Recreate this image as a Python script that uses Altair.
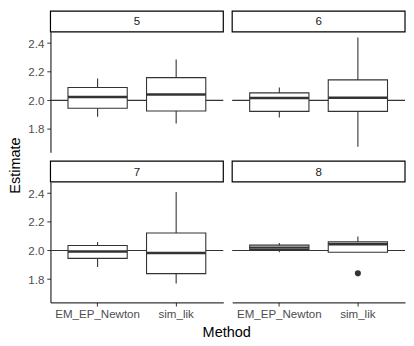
import altair as alt
import pandas as pd

# ---- data ----
panels = ["5", "5", "6", "6", "7", "7", "8", "8"]
methods = ["EM_EP_Newton", "sim_lik"] * 4
lower = [1.886, 1.839, 1.880, 1.675, 1.885, 1.769, 1.988, 1.988]
q1 = [1.945, 1.925, 1.923, 1.923, 1.945, 1.838, 2.007, 1.988]
median = [2.023, 2.041, 2.016, 2.018, 1.993, 1.982, 2.020, 2.043]
q3 = [2.090, 2.159, 2.052, 2.143, 2.035, 2.122, 2.037, 2.060]
upper = [2.152, 2.286, 2.089, 2.440, 2.060, 2.409, 2.053, 2.097]
outlier = [None, None, None, None, None, None, None, 1.840]
ref_value = 2.0
y_ticks = [1.8, 2.0, 2.2, 2.4]
y_domain = [1.637, 2.479]

df = pd.DataFrame({
    "panel": panels, "Method": methods, "lower": lower, "q1": q1,
    "median": median, "q3": q3, "upper": upper, "outlier": outlier,
})
df["ref"] = ref_value

W, H = 175, 122
STRIP = 21
FONT = "Liberation Sans"
DARK = "#333333"


def panel(p, show_x, show_y):
    if show_x:
        xaxis = alt.Axis(labelAngle=0, domainColor="black", domainWidth=1,
                         tickColor=DARK, tickSize=3.7, tickWidth=1,
                         labelColor="#4D4D4D", labelFontSize=11.7,
                         labelFont=FONT, labelPadding=3)
    else:
        xaxis = None
    if show_y:
        yaxis = alt.Axis(values=y_ticks, format=".1f", grid=False,
                         domainColor="black", domainWidth=1, tickColor=DARK,
                         tickSize=3.7, tickWidth=1, labelColor="#4D4D4D",
                         labelFontSize=11.7, labelFont=FONT, labelPadding=3)
    else:
        yaxis = None
    xenc = alt.X("Method:N", title=None,
                 scale=alt.Scale(domain=["EM_EP_Newton", "sim_lik"],
                                 paddingInner=0, paddingOuter=0.1),
                 axis=xaxis)
    yscale = alt.Scale(domain=y_domain, nice=False, zero=False)

    def Y(f):
        return alt.Y(f, scale=yscale, axis=yaxis, title=None)

    base = alt.Chart(df).transform_filter(alt.datum.panel == p).properties(
        width=W, height=H)
    first = alt.datum.Method == "EM_EP_Newton"

    strip_rect = base.mark_rect(fill="white", stroke="black",
                                strokeWidth=1.2).encode(
        x=alt.value(0), x2=alt.value(W), y=alt.value(-STRIP), y2=alt.value(0)
    ).transform_filter(first)
    strip_text = base.mark_text(font=FONT, fontSize=11.7, color="#1A1A1A",
                                baseline="middle", align="center").encode(
        x=alt.value(W / 2), y=alt.value(-STRIP / 2), text="panel:N"
    ).transform_filter(first)
    ref = base.mark_rule(color=DARK, strokeWidth=1.1).encode(
        y=Y("ref:Q")).transform_filter(first)
    whisk = base.mark_rule(color=DARK, strokeWidth=1.1).encode(
        x=xenc, y=Y("lower:Q"), y2="upper:Q")
    box = base.mark_bar(fill="white", stroke=DARK, strokeWidth=1.1,
                        size=60).encode(x=xenc, y=Y("q1:Q"), y2="q3:Q")
    med = base.mark_tick(color=DARK, size=60, thickness=2.4,
                         opacity=1).encode(x=xenc, y=Y("median:Q"))
    outl = base.mark_circle(color=DARK, size=38, opacity=1).encode(
        x=xenc, y=Y("outlier:Q"))
    return alt.layer(strip_rect, strip_text, ref, whisk, box, med, outl)


grid = alt.vconcat(
    alt.hconcat(panel("5", False, True), panel("6", False, False), spacing=7),
    alt.hconcat(panel("7", True, True), panel("8", True, False), spacing=7),
    spacing=8,
).properties(
    title=alt.TitleParams("Estimate", orient="left", anchor="middle",
                          font=FONT, fontSize=14.67, fontWeight="normal",
                          color="black", offset=5)
)

chart = alt.vconcat(grid).properties(
    title=alt.TitleParams("Method", orient="bottom", anchor="middle",
                          font=FONT, fontSize=14.67, fontWeight="normal",
                          color="black", offset=5, dx=20),
    padding={"left": 0, "top": 0, "right": 0, "bottom": 0},
).configure_view(stroke=None)

chart.save("out.html", embed_options={"renderer": "svg", "actions": False})
